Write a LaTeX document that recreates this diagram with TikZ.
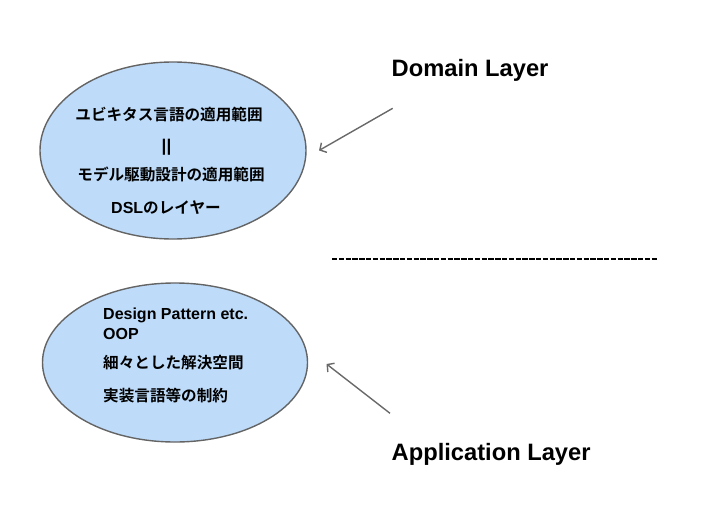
\documentclass[tikz,border=0pt]{standalone}
\usepackage{fontspec}
\setmainfont{Liberation Sans}
\newfontfamily\jp{Noto Sans CJK JP Bold}
\usetikzlibrary{arrows.meta,shapes.geometric}
\definecolor{ellfill}{RGB}{190,220,250}
\definecolor{ellline}{RGB}{100,100,100}
\definecolor{arrcol}{RGB}{105,105,105}
\tikzset{
  layer/.style={ellipse, draw=ellline, line width=1.4pt, fill=ellfill, inner sep=0pt},
  jtxt/.style={anchor=base, inner sep=0pt, font=\jp\fontsize{15.6pt}{18pt}\selectfont},
  jtxtl/.style={anchor=base west, inner sep=0pt, font=\jp\fontsize{15.6pt}{18pt}\selectfont},
  ltxtl/.style={anchor=base west, inner sep=0pt, font=\bfseries\fontsize{16pt}{19pt}\selectfont},
  title/.style={anchor=base west, inner sep=0pt, font=\bfseries\fontsize{23.7pt}{28pt}\selectfont},
  pointer/.style={draw=arrcol, line width=1.4pt, -{Straight Barb[length=5pt,width=11pt]}}
}
\begin{document}
\begin{tikzpicture}[x=1pt,y=-1pt]
\useasboundingbox (0,0) rectangle (711,519);
% ellipses
\node[layer, minimum width=266pt, minimum height=177pt] (dl) at (173,150.5) {};
\node[layer, minimum width=265pt, minimum height=159pt] (al) at (175,362.5) {};
\coordinate (e1) at (319,150.5);
\coordinate (e2) at (326.5,364);
% upper texts
\node[jtxt] (u1) at (169,120.5) {ユビキタス言語の適用範囲};
\node[anchor=base, inner sep=0pt, font=\bfseries\fontsize{17pt}{19pt}\selectfont] (u2) at (166.5,151) {||};
\node[jtxt] (u3) at (171,180) {モデル駆動設計の適用範囲};
\node[jtxt] (u4) at (166,213.5) {{\fontspec{Liberation Sans}\bfseries\fontsize{16pt}{19pt}\selectfont DSL}のレイヤー};
% lower texts
\node[ltxtl] (l1) at (103,319.3) {Design Pattern etc.};
\node[ltxtl] (l2) at (103,339.3) {OOP};
\node[jtxtl] (l3) at (103,368) {細々とした解決空間};
\node[jtxtl] (l4) at (103,401) {実装言語等の制約};
% titles
\node[title] (dom) at (391.5,76) {Domain Layer};
\node[title] (app) at (391.5,460) {Application Layer};
\coordinate (s1) at (392.7,108.3);
\coordinate (s2) at (390,413.3);
% arrows
\draw[pointer] (s1) -- (e1);
\draw[pointer] (s2) -- (e2);
% separator
\coordinate (d1) at (332,258.5);
\coordinate (d2) at (657,258.5);
\draw[line width=2pt, dash pattern=on 5.3pt off 1.5pt] (d1) -- (d2);
\end{tikzpicture}
\end{document}
